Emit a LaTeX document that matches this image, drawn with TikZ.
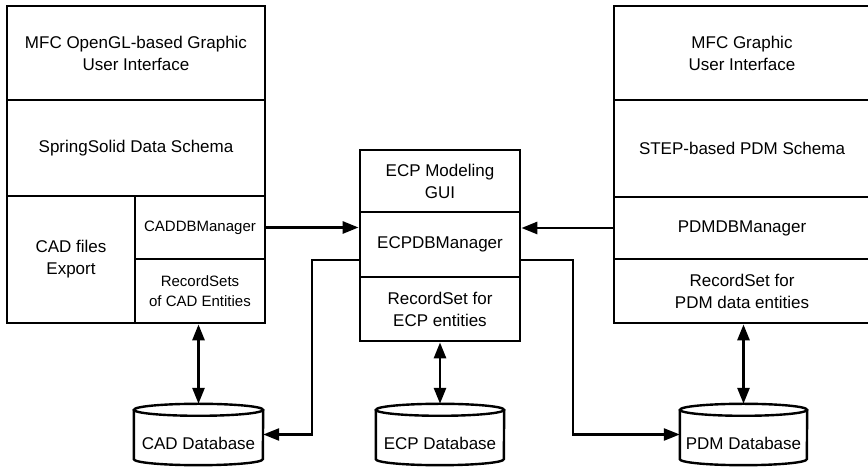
\documentclass[tikz,border=0pt]{standalone}
\usepackage{fontspec}
\setmainfont{Liberation Sans}
\usetikzlibrary{arrows.meta}

% database drum around an invisible body node: #1 node name, #2 half width
\newcommand\dbdrum[2]{%
  \draw[drum] ([yshift=-6pt]#1.north west) -- ([yshift=6pt]#1.south west)
    arc[start angle=180, end angle=360, x radius=#2, y radius=6]
    -- ([yshift=-6pt]#1.north east);
  \draw[drum] ([yshift=-6pt]#1.north) ellipse[x radius=#2, y radius=6];
}

\begin{document}
\begin{tikzpicture}[x=1pt,y=1pt,
  part/.style={draw, line width=2.8pt, inner sep=0pt, align=center,
    font=\fontsize{17}{22}\selectfont},
  smallpart/.style={part, font=\fontsize{15}{20}\selectfont},
  link/.style={line width=2.8pt, -{Triangle[length=16pt,width=12pt]}},
  dblink/.style={line width=2.8pt,
    {Triangle[length=16pt,width=12pt]}-{Triangle[length=16pt,width=12pt]}},
  ret/.style={line width=2.4pt, -{Triangle[length=16pt,width=12pt]}},
  drum/.style={line width=2.4pt},
  db/.style={minimum width=#1, minimum height=61pt, inner sep=0pt},
  dbtext/.style={yshift=-8.5pt, inner sep=0pt, font=\fontsize{17}{22}\selectfont},
]
\useasboundingbox (0,0) rectangle (868,468);

% CAD side
\node[part, minimum width=258pt, minimum height=94pt] (lgui) at (136,415)
  {MFC OpenGL-based Graphic\\User Interface};
\node[part, minimum width=258pt, minimum height=96pt] (lschema) at (136,320)
  {SpringSolid Data Schema};
\node[part, minimum width=128pt, minimum height=127pt] (lexport) at (71,208.5)
  {CAD files\\Export};
\node[smallpart, minimum width=130pt, minimum height=63pt] (lmgr) at (200,240.5)
  {CADDBManager};
\node[smallpart, minimum width=130pt, minimum height=64pt] (lrec) at (200,177)
  {RecordSets\\of CAD Entities};

% ECP core
\node[part, minimum width=160pt, minimum height=62pt] (cgui) at (440,287)
  {ECP Modeling\\GUI};
\node[part, minimum width=160pt, minimum height=65pt] (cmgr) at (440,223.5)
  {ECPDBManager};
\node[part, minimum width=160pt, minimum height=64pt] (crec) at (440,159)
  {RecordSet for\\ECP entities};

% PDM side
\node[part, minimum width=256pt, minimum height=94pt] (rgui) at (742,415)
  {MFC Graphic\\User Interface};
\node[part, minimum width=256pt, minimum height=97pt] (rschema) at (742,319.5)
  {STEP-based PDM Schema};
\node[part, minimum width=256pt, minimum height=62pt] (rmgr) at (742,240)
  {PDMDBManager};
\node[part, minimum width=256pt, minimum height=64pt] (rrec) at (742,177)
  {RecordSet for\\PDM data entities};

% databases
\node[db=129pt, label={[dbtext]center:CAD Database}] (caddb) at (198.5,33.5) {};
\node[db=128pt, label={[dbtext]center:ECP Database}] (ecpdb) at (440,33.5) {};
\node[db=127pt, label={[dbtext]center:PDM Database}] (pdmdb) at (743.5,33.5) {};
\dbdrum{caddb}{64.5}
\dbdrum{ecpdb}{64}
\dbdrum{pdmdb}{63.5}

% managers feeding the ECP manager
\draw[link] (lmgr.east) -- (lmgr.east -| cmgr.west);
\draw[link] (rmgr.west) -- (rmgr.west -| cmgr.east);

% ECP manager writing back to the CAD and PDM databases
\coordinate (lbend) at (312,208);
\coordinate (rbend) at (573,208);
\draw[ret] (cmgr.west |- lbend) -- (lbend) |- (caddb.east);
\draw[ret] (cmgr.east |- rbend) -- (rbend) |- (pdmdb.west);

% record sets to their databases
\draw[dblink] (caddb.north |- lrec.south) -- (caddb.north);
\draw[dblink] (crec.south) -- (ecpdb.north);
\draw[dblink] (pdmdb.north |- rrec.south) -- (pdmdb.north);
\end{tikzpicture}
\end{document}
